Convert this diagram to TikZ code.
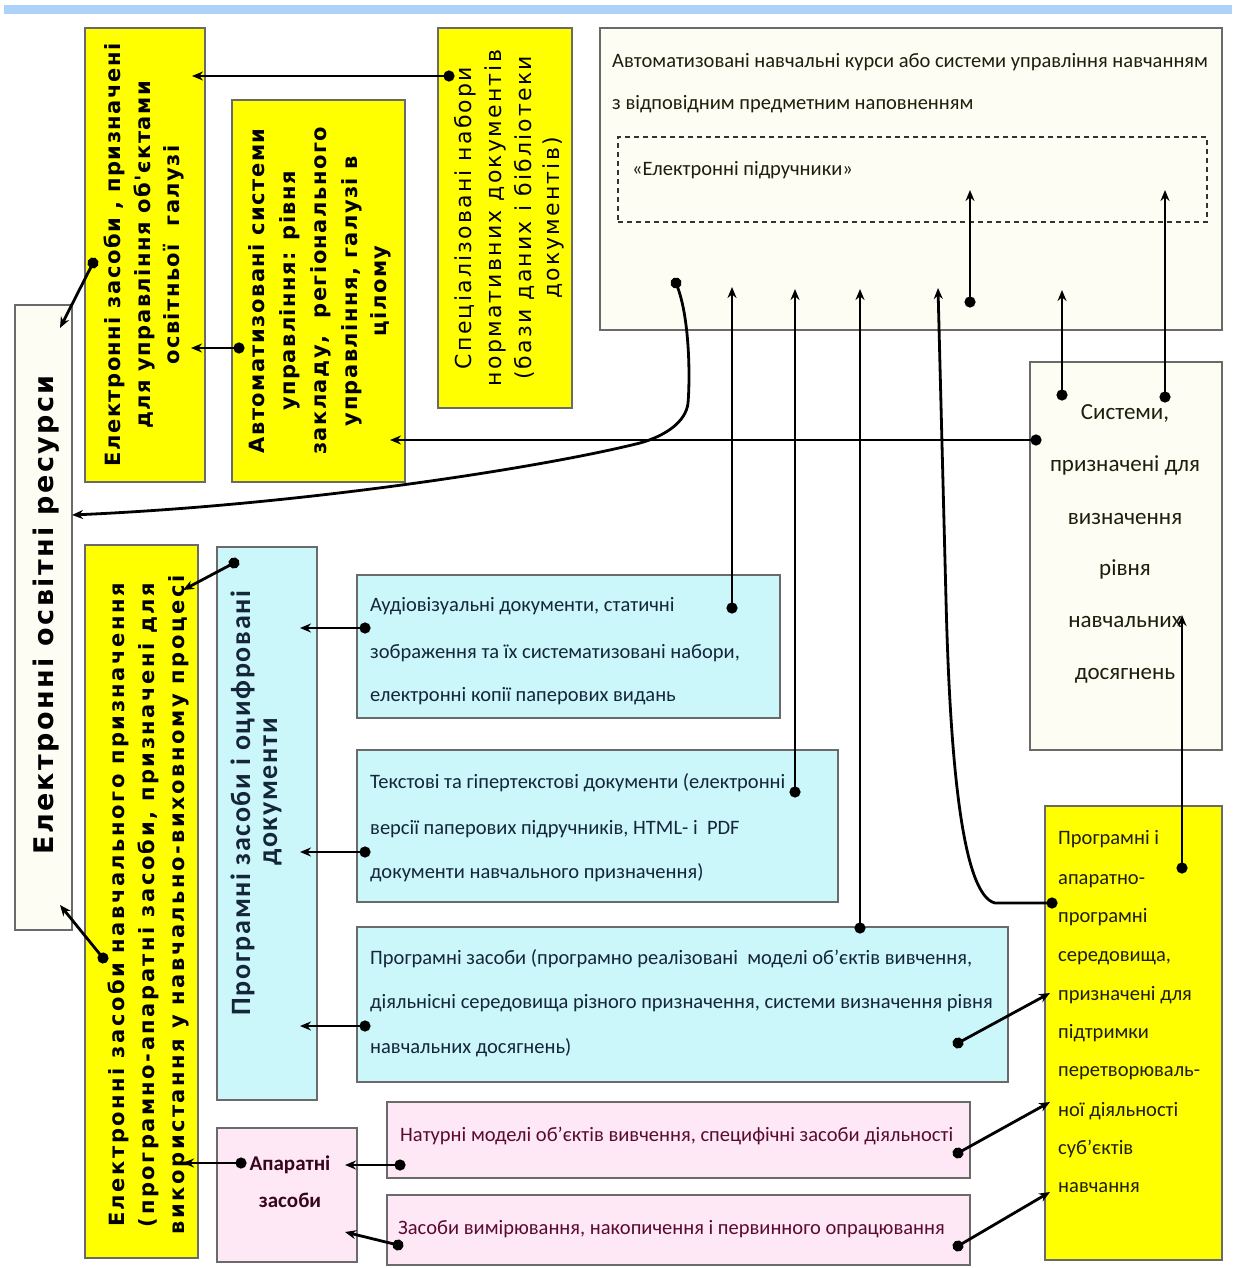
\documentclass[tikz,border=0pt]{standalone}
\usepackage{fontspec}
\setmainfont{Carlito}
\newfontfamily\dejavu{DejaVu Sans}
\newfontfamily\dvy[LetterSpace=7]{DejaVu Sans}
\newfontfamily\dvfour[LetterSpace=12]{DejaVu Sans}
\newfontfamily\dvthree[LetterSpace=10]{DejaVu Sans}
\newfontfamily\dver[LetterSpace=9]{DejaVu Sans}
\newfontfamily\calsp[LetterSpace=6]{Carlito}
\usetikzlibrary{arrows.meta}
\definecolor{yel}{HTML}{FFFF00}
\definecolor{cyanF}{HTML}{CBF7FB}
\definecolor{pinkF}{HTML}{FEE8F6}
\definecolor{creamF}{HTML}{FEFDF3}
\definecolor{bandC}{HTML}{ADD2F7}
\definecolor{bordC}{HTML}{6A6A6A}
\definecolor{cyanT}{HTML}{15253A}
\definecolor{pinkT}{HTML}{5A0A30}
\definecolor{darkT}{HTML}{1E1E0C}
\begin{document}
\begin{tikzpicture}[x=1pt,y=-1pt,
  box/.style={draw=bordC, line width=1.5pt, inner sep=0pt},
  vtxt/.style={rotate=90, anchor=base, inner sep=0pt},
  htxt/.style={anchor=base west, inner sep=0pt},
  ctxt/.style={anchor=base, inner sep=0pt},
  conn/.style={line width=2.8pt, {Circle[length=11pt]}-{Stealth[length=11pt,width=9pt]}, shorten <=-5.5pt},
  yfont/.style={font=\dvy\bfseries\fontsize{21}{22}\selectfont, text=black},
  y4font/.style={font=\dvfour\bfseries\fontsize{21}{22}\selectfont, text=black},
  y3font/.style={font=\dvthree\fontsize{22}{22}\selectfont, text=black},
  cfont/.style={font=\fontsize{20.5}{24}\selectfont, text=cyanT},
  pfont/.style={font=\fontsize{20.5}{24}\selectfont, text=pinkT},
  dfont/.style={font=\fontsize{20.5}{24}\selectfont, text=darkT},
  sfont/.style={font=\fontsize{23}{26}\selectfont, text=darkT}]
\useasboundingbox (0,0) rectangle (1232,1268);
\fill[white] (0,0) rectangle (1232,1268);
\fill[bandC] (4,5) rectangle (1232,14);

% ---------- boxes ----------
\node[box, fill=creamF, minimum width=57, minimum height=625] (er) at (43.5,617.5) {};
\node[box, fill=yel, minimum width=120, minimum height=454] (y1) at (145,255) {};
\node[box, fill=yel, minimum width=173, minimum height=382] (y2) at (318.5,291) {};
\node[box, fill=yel, minimum width=134, minimum height=380] (y3) at (505,218) {};
\node[box, fill=creamF, minimum width=622, minimum height=302] (ac) at (911,179) {};
\node[draw=black!80, line width=1.8pt, dash pattern=on 5pt off 4pt, minimum width=589, minimum height=85, inner sep=0pt] (db) at (912.5,179.5) {};
\node[box, fill=creamF, minimum width=192, minimum height=388] (sys) at (1126,556) {};
\node[box, fill=yel, minimum width=113, minimum height=713] (y4) at (141.5,901.5) {};
\node[box, fill=cyanF, minimum width=100, minimum height=553] (pz) at (267,823.5) {};
\node[box, fill=cyanF, minimum width=423, minimum height=143] (c1) at (568.5,646.5) {};
\node[box, fill=cyanF, minimum width=481, minimum height=152] (c2) at (597.5,826) {};
\node[box, fill=cyanF, minimum width=651, minimum height=155] (c3) at (682.5,1004.5) {};
\node[box, fill=pinkF, minimum width=140, minimum height=134] (az) at (287,1195) {};
\node[box, fill=pinkF, minimum width=583, minimum height=76] (p1) at (678.5,1140) {};
\node[box, fill=pinkF, minimum width=583, minimum height=70] (p2) at (678.5,1230) {};
\node[box, fill=yel, minimum width=177, minimum height=454] (y5) at (1133.5,1033) {};

% ---------- texts ----------
\node[vtxt, font=\dver\bfseries\fontsize{27}{30}\selectfont] (ert) at (53,615) {Електронні освітні ресурси};

\node[vtxt, yfont] (y1t1) at (120,255) {Електронні засоби , призначені};
\node[vtxt, yfont] (y1t2) at (150,255) {для управління об'єктами};
\node[vtxt, yfont] (y1t3) at (179,255) {освітньої\ \ галузі};

\node[vtxt, yfont] (y2t1) at (264,291) {Автоматизовані системи};
\node[vtxt, yfont] (y2t2) at (295,291) {управління: рівня};
\node[vtxt, yfont] (y2t3) at (326,291) {закладу,\ \ регіонального};
\node[vtxt, yfont] (y2t4) at (357,291) {управління, галузі в};
\node[vtxt, yfont] (y2t5) at (386,291) {цілому};

\node[vtxt, y3font] (y3t1) at (471,218) {Спеціалізовані набори};
\node[vtxt, y3font] (y3t2) at (501,218) {нормативних документів};
\node[vtxt, y3font] (y3t3) at (531,218) {(бази даних і бібліотеки};
\node[vtxt, y3font] (y3t4) at (559,218) {документів)};

\node[htxt, dfont] (act1) at (612,68) {Автоматизовані навчальні курси або системи управління навчанням};
\node[htxt, dfont] (act2) at (612,110) {з відповідним предметним наповненням};
\node[htxt, dfont] (dbt) at (632,176) {«Електронні підручники»};

\node[ctxt, sfont] (syst1) at (1125,419) {Системи,};
\node[ctxt, sfont] (syst2) at (1125,471) {призначені для};
\node[ctxt, sfont] (syst3) at (1125,524) {визначення};
\node[ctxt, sfont] (syst4) at (1125,575) {рівня};
\node[ctxt, sfont] (syst5) at (1125,627) {навчальних};
\node[ctxt, sfont] (syst6) at (1125,679) {досягнень};

\node[vtxt, y4font] (y4t1) at (124,905) {Електронні засоби навчального призначення};
\node[vtxt, y4font] (y4t2) at (154,905) {(програмно-апаратні засоби, призначені для};
\node[vtxt, y4font] (y4t3) at (184,905) {використання у навчально-виховному процесі};

\node[vtxt, font=\calsp\bfseries\fontsize{28}{30}\selectfont, text=cyanT] (pzt1) at (250,803) {Програмні засоби і оцифровані};
\node[vtxt, font=\calsp\bfseries\fontsize{28}{30}\selectfont, text=cyanT] (pzt2) at (277,792) {документи};

\node[htxt, cfont] (c1t1) at (370,611) {Аудіовізуальні документи, статичні};
\node[htxt, cfont] (c1t2) at (370,658) {зображення та їх систематизовані набори,};
\node[htxt, cfont] (c1t3) at (370,701) {електронні копії паперових видань};

\node[htxt, cfont] (c2t1) at (370,788) {Текстові та гіпертекстові документи (електронні};
\node[htxt, cfont] (c2t2) at (370,834) {версії паперових підручників, HTML- і\ \ PDF};
\node[htxt, cfont] (c2t3) at (370,878) {документи навчального призначення)};

\node[htxt, cfont] (c3t1) at (370,964) {Програмні засоби (програмно реалізовані\ \ моделі об'єктів вивчення,};
\node[htxt, cfont] (c3t2) at (370,1008) {діяльнісні середовища різного призначення, системи визначення рівня};
\node[htxt, cfont] (c3t3) at (370,1053) {навчальних досягнень)};

\node[ctxt, font=\bfseries\fontsize{21}{24}\selectfont, text=pinkT!60!black] (azt1) at (290,1170) {Апаратні};
\node[ctxt, font=\bfseries\fontsize{21}{24}\selectfont, text=pinkT!60!black] (azt2) at (290,1207) {засоби};

\node[htxt, pfont] (p1t) at (400,1141) {Натурні моделі об'єктів вивчення, специфічні засоби діяльності};
\node[htxt, pfont] (p2t) at (398,1234) {Засоби вимірювання, накопичення і первинного опрацювання};

\node[htxt, dfont] (y5t1) at (1058,844) {Програмні і};
\node[htxt, dfont] (y5t2) at (1058,884) {апаратно-};
\node[htxt, dfont] (y5t3) at (1058,922) {програмні};
\node[htxt, dfont] (y5t4) at (1058,961) {середовища,};
\node[htxt, dfont] (y5t5) at (1058,1000) {призначені для};
\node[htxt, dfont] (y5t6) at (1058,1038) {підтримки};
\node[htxt, dfont] (y5t7) at (1058,1076) {перетворюваль-};
\node[htxt, dfont] (y5t8) at (1058,1116) {ної діяльності};
\node[htxt, dfont] (y5t9) at (1058,1154) {суб'єктів};
\node[htxt, dfont] (y5t10) at (1058,1192) {навчання};

% ---------- connector end points ----------
\coordinate (y3d) at (449,76);   \coordinate (y1a) at (192,76);
\coordinate (y2d) at (239,348);  \coordinate (y1b) at (191,348);
\coordinate (y1d) at (93,263);   \coordinate (era) at (60,328);
\coordinate (sysL) at (1036,440);\coordinate (y2a) at (390,440);
\coordinate (acd) at (676,283);  \coordinate (erb) at (72,515);
\coordinate (c1R) at (732,608);  \coordinate (aci1) at (732,287);
\coordinate (c2R) at (795,792);  \coordinate (aci2) at (795,289);
\coordinate (c3T) at (860,928);  \coordinate (aci3) at (860,289);
\coordinate (y5L) at (1052,903); \coordinate (aci4) at (938,288);
\coordinate (acd2) at (970,302); \coordinate (dbi1) at (970,190);
\coordinate (sys1) at (1062,395);\coordinate (aci5) at (1062,290);
\coordinate (sys2) at (1165,397);\coordinate (dbi2) at (1165,190);
\coordinate (y5T) at (1182,868); \coordinate (sysi) at (1182,615);
\coordinate (c3R) at (958,1043); \coordinate (y5a) at (1050,993);
\coordinate (p1R) at (958,1153); \coordinate (y5b) at (1050,1102);
\coordinate (p2R) at (958,1246); \coordinate (y5c) at (1050,1192);
\coordinate (c1L) at (365,628);  \coordinate (pza) at (300,628);
\coordinate (c2L) at (365,852);  \coordinate (pzb) at (300,852);
\coordinate (c3L) at (365,1026); \coordinate (pzc) at (300,1026);
\coordinate (pzd) at (234,563);  \coordinate (y4a) at (183,590);
\coordinate (azd) at (241,1163); \coordinate (y4b) at (183,1163);
\coordinate (p1L) at (400,1165); \coordinate (aza) at (345,1165);
\coordinate (p2L) at (398,1245); \coordinate (azb) at (345,1232);
\coordinate (y4d) at (103,958);  \coordinate (erc) at (60,905);

% ---------- connectors ----------
\draw[conn] (y3d) -- (y1a);
\draw[conn] (y2d) -- (y1b);
\draw[conn] (y1d) -- (era);
\draw[conn] (sysL) -- (y2a);
\draw[conn] (acd) .. controls (690,320) and (690,380) .. (688,403)
   .. controls (686,422) and (665,436) .. (640,443)
   .. controls (540,468) and (300,505) .. (erb);
\draw[conn] (c1R) -- (aci1);
\draw[conn] (c2R) -- (aci2);
\draw[conn] (c3T) -- (aci3);
\draw[conn] (y5L) -- (995,903) .. controls (962,895) and (950,760) .. (946,600) -- (aci4);
\draw[conn] (acd2) -- (dbi1);
\draw[conn] (sys1) -- (aci5);
\draw[conn] (sys2) -- (dbi2);
\draw[conn] (y5T) -- (sysi);
\draw[conn] (c3R) -- (y5a);
\draw[conn] (p1R) -- (y5b);
\draw[conn] (p2R) -- (y5c);
\draw[conn] (c1L) -- (pza);
\draw[conn] (c2L) -- (pzb);
\draw[conn] (c3L) -- (pzc);
\draw[conn] (pzd) -- (y4a);
\draw[conn] (azd) -- (y4b);
\draw[conn] (p1L) -- (aza);
\draw[conn] (p2L) -- (azb);
\draw[conn] (y4d) -- (erc);
\end{tikzpicture}
\end{document}
